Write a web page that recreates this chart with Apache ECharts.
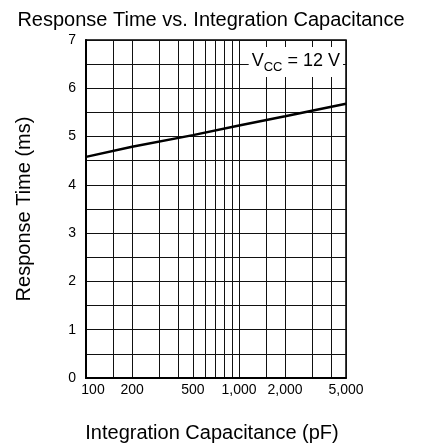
<!DOCTYPE html>
<html>
<head>
<meta charset="utf-8">
<script src="https://cdn.jsdelivr.net/npm/echarts@6/dist/echarts.min.js"></script>
<style>html,body{margin:0;padding:0;background:#fff}#c{width:422px;height:446px}</style>
</head>
<body>
<div id="c"></div>
<script>
var capacitance = [100, 200, 500, 1000, 2000, 5000];
var responseTime = [4.58, 4.79, 5.03, 5.23, 5.42, 5.68];
var xLabelValues = [100, 200, 500, 1000, 2000, 5000];
var xGridValues = [100, 150, 200, 300, 400, 500, 600, 700, 800, 900, 1000, 1500, 2000, 3000, 4000, 5000];
var yTickLabels = [0, 1, 2, 3, 4, 5, 6, 7];

var font = 'Liberation Sans, Arial, sans-serif';
var chart = echarts.init(document.getElementById('c'), null, {renderer: 'canvas'});
chart.setOption({
  animation: false,
  title: {
    text: 'Response Time vs. Integration Capacitance',
    left: 'center', top: 5,
    textStyle: {fontFamily: font, fontSize: 20, fontWeight: 'normal', color: '#000'}
  },
  grid: {left: 86, right: 76, top: 40, bottom: 68, show: true, borderColor: '#000', borderWidth: 1.5, containLabel: false, outerBoundsMode: 'none'},
  xAxis: {
    type: 'log', logBase: 10, min: 100, max: 5000,
    name: 'Integration Capacitance (pF)', nameLocation: 'middle', nameGap: 45,
    nameTextStyle: {fontFamily: font, fontSize: 20, color: '#000', padding: [0, 8, 0, 0]},
    axisLine: {show: true, lineStyle: {color: '#000', width: 2}},
    axisTick: {show: false, customValues: xGridValues},
    splitLine: {show: true, lineStyle: {color: '#111', width: 1}},
    axisLabel: {
      customValues: xLabelValues, margin: 5,
      fontFamily: font, fontSize: 14, color: '#000',
      formatter: function (v) {
        var s = Number(v).toLocaleString('en-US');
        return v === 100 ? '{f|' + s + '}' : s;
      },
      rich: {f: {fontFamily: font, fontSize: 14, color: '#000', padding: [0, 0, 0, 14]}}
    }
  },
  yAxis: {
    type: 'value', min: 0, max: 7, interval: 0.5,
    name: 'Response Time (ms)', nameLocation: 'middle', nameGap: 52,
    nameTextStyle: {fontFamily: font, fontSize: 20, color: '#000'},
    axisLine: {show: true, lineStyle: {color: '#000', width: 2}},
    axisTick: {show: false},
    splitLine: {show: true, lineStyle: {color: '#111', width: 1}},
    axisLabel: {
      margin: 10, fontFamily: font, fontSize: 14, color: '#000',
      formatter: function (v) { return yTickLabels.indexOf(v) >= 0 ? String(v) : ''; }
    }
  },
  series: [{
    type: 'line',
    data: capacitance.map(function (c, i) { return [c, responseTime[i]]; }),
    showSymbol: false,
    lineStyle: {color: '#000', width: 2.5},
    z: 5
  }],
  graphic: [{
    type: 'text', right: 79, top: 47, z: 10,
    style: {
      text: '{v|V}{s|CC}{v| = 12 V}',
      backgroundColor: '#fff', padding: [2, 3, 3, 3],
      rich: {
        v: {fontFamily: font, fontSize: 18, fill: '#000', lineHeight: 24},
        s: {fontFamily: font, fontSize: 13, fill: '#000', padding: [12, 0, 0, 0]}
      }
    }
  }]
});
</script>
</body>
</html>
